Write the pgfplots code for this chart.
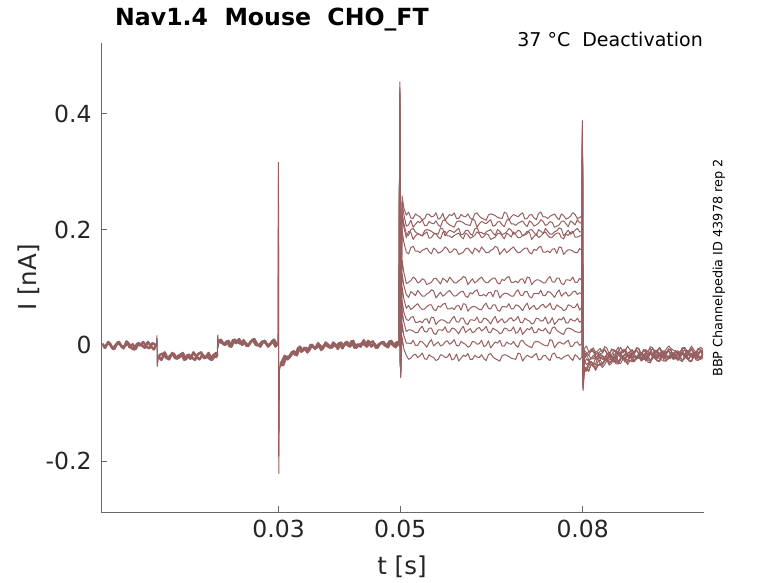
\documentclass[border=0pt]{standalone}
\usepackage{fontspec}
\setmainfont{DejaVu Sans}
\usepackage{pgfplots}
\usepackage{pgfplotstable}
\pgfplotsset{compat=1.18}
\definecolor{trace}{RGB}{150,96,96}
\definecolor{axgray}{RGB}{105,105,105}
\definecolor{lab}{RGB}{38,38,38}
\newcommand\tickfont{\fontsize{23.5bp}{28bp}\selectfont}
\newcommand\labfont{\fontsize{24.5bp}{29bp}\selectfont}
\pgfplotstableread{
t s1 s2 s3 s4 s5 s6 s7 s8 s9 s10 s11 s12
49.8 3 0 4 -1 2 5 -2 1 3 0 4 2
49.93 455 350 430 400 445 380 420 360 440 410 390 435
50.05 -55 -50 -45 -52 -40 -48 -53 -44 -50 -47 -42 -55
50.3 258 246 231 225 199 147 124 101 78 61 38 15
50.6 237 225 210 204 178 126 103 80 57 40 17 -6
51.0 225 206 193 186 161 107 88 64 45 24 4 -17
51.375 230 208 190 197 158 109 83 69 43 27 4 -24
51.75 220 216 200 195 169 112 93 62 48 27 3 -22
52.125 219 204 202 183 171 118 90 65 50 25 9 -17
52.5 227 209 196 189 163 115 86 69 40 22 0 -15
52.875 224 214 193 193 163 108 95 72 40 22 0 -21
53.25 222 212 191 191 160 110 90 66 42 29 7 -18
53.625 217 217 189 189 164 115 85 62 39 33 6 -13
54.0 219 207 198 193 166 113 85 63 45 24 2 -23
54.375 227 207 200 196 168 105 89 67 46 23 -3 -24
54.75 226 214 199 185 162 107 91 70 38 30 5 -16
55.125 222 211 197 186 158 109 96 70 49 30 10 -19
55.5 223 210 194 192 168 115 94 62 48 21 -1 -21
55.875 229 215 193 193 165 116 82 60 36 19 3 -26
56.25 218 208 192 187 159 111 87 68 41 27 6 -24
56.625 220 205 203 184 161 106 92 66 44 27 -1 -16
57.0 228 215 201 195 164 116 85 71 44 26 1 -17
57.375 216 217 189 197 170 113 88 73 42 32 6 -21
57.75 221 211 195 189 167 109 92 63 39 23 8 -20
58.125 226 208 199 189 160 118 95 63 39 23 2 -14
58.5 224 206 197 186 162 113 89 65 46 30 5 -25
58.875 229 204 195 190 167 108 85 62 50 29 10 -23
59.25 219 213 199 192 165 108 86 68 41 25 0 -15
59.625 219 215 202 194 157 112 90 69 40 20 -1 -27
60.0 226 214 191 188 159 114 93 61 47 28 7 -22
60.375 223 212 192 184 161 119 93 72 47 33 4 -17
60.75 222 209 198 194 167 117 85 71 38 22 2 -19
61.125 227 208 199 191 168 105 83 59 36 26 -3 -14
61.5 220 207 193 185 163 110 91 64 44 29 -1 -24
61.875 217 218 190 187 158 115 89 67 44 22 7 -24
62.25 227 216 201 190 168 108 94 67 43 24 6 -17
62.625 229 204 203 196 165 111 96 65 49 29 2 -20
63.0 223 210 195 193 161 115 86 62 40 31 3 -21
63.375 220 214 195 186 170 118 86 62 40 25 9 -16
63.75 218 212 192 188 165 112 88 69 47 28 -2 -23
64.125 216 210 196 193 160 108 85 73 46 33 0 -26
64.5 225 214 198 191 160 109 91 64 42 23 8 -16
64.875 227 217 200 183 164 113 92 63 37 22 -4 -14
65.25 226 206 194 185 166 116 84 70 45 30 1 -20
65.625 224 207 190 187 171 116 95 70 50 27 6 -23
66.0 221 213 200 193 169 108 94 61 39 25 4 -25
66.375 220 214 197 194 157 106 82 59 43 20 9 -27
66.75 219 208 191 189 162 114 87 67 46 22 -1 -18
67.125 230 205 193 184 167 112 90 67 39 30 -1 -16
67.5 228 216 196 194 160 117 90 66 41 29 6 -17
67.875 216 218 202 191 163 119 88 72 46 25 3 -19
68.25 222 210 199 187 167 109 85 63 48 26 2 -22
68.625 226 210 192 196 170 109 85 63 42 32 7 -23
69.0 224 207 194 191 164 111 92 70 45 21 0 -24
69.375 222 211 199 186 160 108 96 69 50 23 -3 -13
69.75 226 213 197 186 161 114 87 65 40 31 7 -15
70.125 229 215 189 190 165 115 86 60 39 19 9 -27
70.5 218 209 191 192 168 107 93 68 47 24 3 -21
70.875 219 205 193 197 168 118 93 73 44 29 0 -17
71.25 225 215 199 195 160 117 84 62 42 27 -2 -19
71.625 226 212 200 183 158 105 82 66 37 32 -4 -21
72.0 220 206 195 188 166 110 90 69 39 22 5 -17
72.375 217 208 190 193 164 113 90 62 47 22 7 -14
72.75 228 211 200 186 169 113 89 64 46 29 6 -25
73.125 230 217 197 189 171 111 95 69 42 26 4 -24
73.5 222 214 193 193 161 108 86 71 43 25 1 -18
73.875 222 207 202 196 161 108 86 65 49 30 0 -17
74.25 219 209 197 190 163 115 93 68 38 23 -1 -23
74.625 223 214 192 186 160 119 92 73 40 20 10 -26
75.0 225 212 192 187 166 110 88 63 48 30 8 -15
75.375 227 204 196 191 167 109 83 62 36 32 -4 -13
75.75 221 206 198 194 159 116 91 70 41 26 2 -21
76.125 217 208 203 194 170 116 96 67 46 23 6 -21
76.5 227 214 201 186 169 107 85 65 44 21 4 -24
76.875 224 215 189 184 157 105 89 60 49 19 2 -20
77.25 218 210 194 192 162 113 92 62 39 28 6 -18
77.625 220 205 199 190 165 113 85 70 39 30 9 -16
78.0 223 215 192 195 165 112 87 69 46 29 -2 -22
78.375 229 212 195 197 163 118 92 65 43 27 -1 -26
78.75 226 208 199 187 160 109 94 66 42 24 5 -16
79.125 219 217 202 187 160 109 88 72 47 23 6 -19
79.5 221 212 196 189 167 116 91 61 40 22 0 -25
79.85 223 211 196 190 164 112 89 66 43 26 3 -20
79.96 388 330 370 350 380 320 360 340 375 355 345 365
80.06 -78 -70 -75 -65 -72 -60 -68 -74 -66 -62 -70 -64
80.25 -46 -41 -45 -37 -39 -32 -26 -24 -21 -13 -8 -6
80.625 -40 -43 -44 -40 -40 -23 -33 -16 -13 -15 -13 -1
81.0 -45 -42 -35 -32 -30 -27 -29 -25 -17 -17 -13 -11
81.375 -33 -33 -28 -32 -28 -30 -21 -23 -23 -9 -6 -11
81.75 -35 -32 -31 -37 -32 -31 -22 -17 -23 -11 -9 -4
82.125 -43 -41 -33 -37 -23 -32 -24 -21 -15 -19 -15 -12
82.5 -35 -34 -33 -28 -24 -21 -17 -24 -12 -19 -15 -9
82.875 -33 -31 -34 -25 -31 -20 -16 -16 -24 -14 -10 -5
83.25 -38 -34 -33 -31 -31 -24 -23 -17 -19 -13 -8 -12
83.625 -33 -24 -26 -28 -25 -22 -25 -25 -20 -7 -7 -2
84.0 -26 -25 -23 -21 -25 -18 -24 -14 -15 -14 -13 -5
84.375 -34 -31 -28 -20 -20 -25 -17 -17 -12 -20 -17 -15
84.75 -31 -28 -27 -26 -21 -24 -17 -21 -20 -16 -6 -8
85.125 -22 -24 -19 -28 -29 -14 -25 -21 -22 -10 -11 -7
85.5 -27 -32 -24 -28 -25 -19 -19 -18 -13 -9 -9 -13
85.875 -31 -32 -29 -31 -16 -27 -12 -11 -14 -14 -3 -9
86.25 -31 -24 -21 -21 -21 -24 -21 -15 -17 -14 -13 -3
86.625 -23 -18 -23 -20 -24 -17 -19 -21 -9 -7 -13 -12
87.0 -23 -22 -29 -25 -26 -17 -14 -22 -11 -11 -6 -10
87.375 -33 -25 -29 -16 -28 -20 -18 -14 -19 -17 -14 -1
87.75 -27 -26 -21 -18 -18 -14 -22 -11 -20 -17 -11 -7
88.125 -24 -28 -19 -26 -16 -13 -14 -23 -15 -12 -7 -11
88.5 -28 -28 -26 -26 -21 -21 -15 -18 -14 -10 -14 -12
88.875 -19 -20 -23 -21 -19 -23 -23 -19 -8 -8 -4 -4
89.25 -20 -18 -17 -21 -16 -22 -12 -15 -15 -14 -7 -5
89.625 -27 -24 -16 -17 -23 -15 -16 -12 -22 -18 -17 -15
90.0 -24 -24 -23 -18 -22 -15 -20 -20 -18 -7 -10 -9
90.375 -21 -16 -25 -27 -12 -24 -20 -22 -11 -12 -9 -7
90.75 -29 -22 -25 -22 -18 -18 -18 -13 -10 -10 -15 -11
91.125 -30 -26 -28 -14 -26 -11 -11 -15 -15 -5 -11 -2
91.5 -21 -19 -19 -19 -23 -21 -15 -18 -15 -15 -5 -4
91.875 -16 -21 -18 -23 -16 -19 -21 -9 -8 -15 -14 -11
92.25 -20 -27 -23 -25 -17 -14 -22 -11 -12 -8 -12 -8
92.625 -23 -28 -15 -27 -20 -18 -13 -19 -18 -16 -3 -5
93.0 -25 -20 -17 -17 -14 -22 -11 -20 -18 -13 -9 -13
93.375 -27 -18 -25 -16 -13 -13 -23 -15 -13 -9 -13 -14
93.75 -27 -25 -26 -21 -21 -15 -18 -14 -11 -16 -14 -6
94.125 -20 -23 -21 -19 -23 -23 -19 -8 -10 -6 -6 -1
94.5 -18 -17 -21 -16 -22 -12 -15 -15 -16 -9 -7 -5
94.875 -24 -16 -17 -23 -16 -16 -12 -22 -20 -19 -17 -8
95.25 -23 -22 -17 -22 -15 -20 -20 -18 -9 -12 -11 -10
95.625 -15 -24 -26 -12 -24 -20 -22 -12 -14 -11 -9 -12
96.0 -21 -25 -22 -18 -18 -18 -13 -11 -12 -17 -13 -12
96.375 -26 -28 -14 -26 -11 -11 -15 -16 -7 -13 -4 -5
96.75 -19 -19 -19 -23 -21 -15 -18 -16 -17 -7 -6 -3
97.125 -21 -18 -23 -16 -19 -21 -10 -9 -17 -16 -13 -9
97.5 -27 -23 -25 -17 -14 -22 -12 -13 -10 -14 -10 -9
97.875 -28 -15 -27 -20 -18 -14 -20 -19 -18 -5 -7 -1
98.25 -20 -17 -17 -14 -22 -12 -21 -19 -15 -11 -15 -7
98.625 -18 -25 -16 -13 -14 -24 -16 -14 -11 -15 -16 -12
99.0 -25 -26 -21 -21 -16 -19 -15 -12 -18 -16 -8 -5
99.375 -23 -21 -19 -23 -24 -20 -9 -11 -8 -8 -3 -7
99.75 -17 -21 -16 -23 -13 -16 -16 -17 -11 -9 -7 -13
}\steps
\begin{document}
\begin{tikzpicture}
\useasboundingbox (0,0) rectangle (778bp,583bp);
\begin{axis}[
  at={(101bp,70.7bp)}, anchor=south west,
  scale only axis, width=603.3bp, height=469.3bp,
  xmin=0.8, xmax=100, ymin=-288, ymax=522,
  axis x line*=bottom, axis y line*=left,
  axis line style={draw=axgray, line width=0.7bp},
  xtick={30,50,80}, xticklabels={0.03,0.05,0.08},
  ytick={-200,0,200,400}, yticklabels={-0.2,0,0.2,0.4},
  tick align=inside, major tick length=6bp,
  tick style={draw=axgray, line width=0.7bp},
  tick label style={font=\tickfont, text=lab},
  xticklabel style={yshift=-4bp},
  yticklabel style={xshift=-6bp},
  trace/.style={draw=trace, line width=1.0bp, line join=round, mark=none},
  band/.style={draw=trace, line width=2.5bp, line join=round, mark=none},
]
% sweep A, holding segments (overlaid sweeps drawn as a band)
\addplot[band] coordinates {(1.0,3)(1.5,-4)(2.0,6)(2.5,-2)(3.0,-6)(3.5,5)(4.0,1)(4.5,-5)(5.0,7)(5.5,-3)(6.0,2)(6.5,-6)(7.0,4)(7.5,0)(8.0,-4)(8.5,6)(9.0,-1)(9.5,-7)(9.9,2)};
\addplot[trace] coordinates {(9.5,-7)(9.9,2)(10.0,17)(10.05,-36)(10.2,-22)(10.5,-16)};
\addplot[band] coordinates {(10.2,-22)(10.5,-16)(11.0,-14)(11.5,-21)(12.0,-24)(12.5,-13)(13.0,-22)(13.5,-18)(14.0,-15)(14.5,-25)(15.0,-17)(15.5,-23)(16.0,-12)(16.5,-20)(17.0,-24)(17.5,-16)(18.0,-21)(18.5,-13)(19.0,-25)(19.5,-19)(19.9,-20)};
\addplot[trace] coordinates {(19.5,-19)(19.9,-20)(20.0,18)(20.05,-4)(20.2,8)(20.5,10)};
\addplot[band] coordinates {(20.2,8)(20.5,10)(21.0,2)(21.5,7)(22.0,-2)(22.5,9)(23.0,4)(23.5,11)(24.0,1)(24.5,5)(25.0,-1)(25.5,7)(26.0,11)(26.5,2)(27.0,-2)(27.5,7)(28.0,3)(28.5,0)(29.0,8)(29.5,-2)(29.9,4)};
\addplot[trace] coordinates {(29.5,-2)(29.9,4)(29.97,316)(30.03,-221)(30.12,-45)(30.3,-32)(30.5,-29)};
\addplot[band] coordinates {(30.3,-32)(30.5,-29)(31.0,-18)(31.5,-24)(32.0,-18)(32.5,-10)(33.0,-17)(33.5,-2)(34.0,-9)(34.5,-4)(35.0,-9)(35.5,1)(36.0,-6)(36.5,4)(37.0,-8)(37.5,1)(38.0,-1)(38.5,-4)(39.0,5)(39.5,-1)(40.0,4)(40.5,-5)(41.0,5)(41.5,-1)(42.0,7)(42.5,-4)(43.0,2)(43.5,-2)(44.0,9)(44.5,-2)(45.0,4)(45.5,7)(46.0,-4)(46.5,2)(47.0,5)(47.5,0)(48.0,-3)(48.5,8)(49.0,1)(49.5,6)(49.8,3)};
% sweep B
\addplot[band] coordinates {(1.25,-5)(1.75,2)(2.25,4)(2.75,-6)(3.25,1)(3.75,6)(4.25,-3)(4.75,-1)(5.25,5)(5.75,-4)(6.25,-7)(6.75,3)(7.25,0)(7.75,6)(8.25,-2)(8.75,-5)(9.25,4)(9.75,1)(9.95,-2)};
\addplot[trace] coordinates {(9.75,1)(9.95,-2)(10.02,12)(10.08,-30)(10.25,-20)(10.75,-25)};
\addplot[band] coordinates {(10.25,-20)(10.75,-25)(11.25,-12)(11.75,-22)(12.25,-17)(12.75,-14)(13.25,-23)(13.75,-20)(14.25,-13)(14.75,-24)(15.25,-16)(15.75,-21)(16.25,-25)(16.75,-15)(17.25,-12)(17.75,-22)(18.25,-19)(18.75,-24)(19.25,-17)(19.75,-13)(19.95,-18)};
\addplot[trace] coordinates {(19.75,-13)(19.95,-18)(20.02,14)(20.1,0)(20.25,7)(20.75,4)};
\addplot[band] coordinates {(20.25,7)(20.75,4)(21.25,1)(21.75,8)(22.25,-2)(22.75,10)(23.25,6)(23.75,3)(24.25,9)(24.75,-1)(25.25,4)(25.75,10)(26.25,1)(26.75,0)(27.25,6)(27.75,8)(28.25,-2)(28.75,4)(29.25,10)(29.75,1)(29.92,3)};
\addplot[trace] coordinates {(29.75,1)(29.92,3)(29.98,290)(30.04,-190)(30.15,-40)(30.35,-34)(30.75,-34)};
\addplot[band] coordinates {(30.35,-34)(30.75,-34)(31.25,-20)(31.75,-19)(32.25,-11)(32.75,-16)(33.25,-4)(33.75,-11)(34.25,-4)(34.75,-12)(35.25,1)(35.75,-3)(36.25,-4)(36.75,1)(37.25,-6)(37.75,5)(38.25,0)(38.75,-4)(39.25,2)(39.75,-6)(40.25,5)(40.75,0)(41.25,6)(41.75,-2)(42.25,8)(42.75,-4)(43.25,1)(43.75,4)(44.25,0)(44.75,8)(45.25,-2)(45.75,3)(46.25,-4)(46.75,4)(47.25,6)(47.75,-1)(48.25,7)(48.75,1)(49.25,-3)(49.75,5)};
% the twelve sweeps from the onset of the test step
\pgfplotsinvokeforeach{1,...,12}{
  \addplot[trace] table[x=t, y=s#1] {\steps};
}
\end{axis}
\node[anchor=base west, font=\fontsize{23.6bp}{28bp}\selectfont\bfseries, text=black, inner sep=0pt] at (115bp,557bp) {Nav1.4~~Mouse~~CHO\_FT};
\node[anchor=base east, font=\fontsize{19bp}{23bp}\selectfont, text=black, inner sep=0pt] at (703bp,536bp) {37~°C~~Deactivation};
\node[anchor=base, font=\labfont, text=lab, inner sep=0pt] at (402bp,9bp) {t [s]};
\node[anchor=base, rotate=90, font=\labfont, text=lab, inner sep=0pt] at (36bp,305.5bp) {I [nA]};
\node[anchor=base, rotate=90, font=\fontsize{12.8bp}{15bp}\selectfont, text=black, inner sep=0pt] at (722.3bp,315bp) {BBP Channelpedia ID 43978 rep 2};
\end{tikzpicture}
\end{document}
